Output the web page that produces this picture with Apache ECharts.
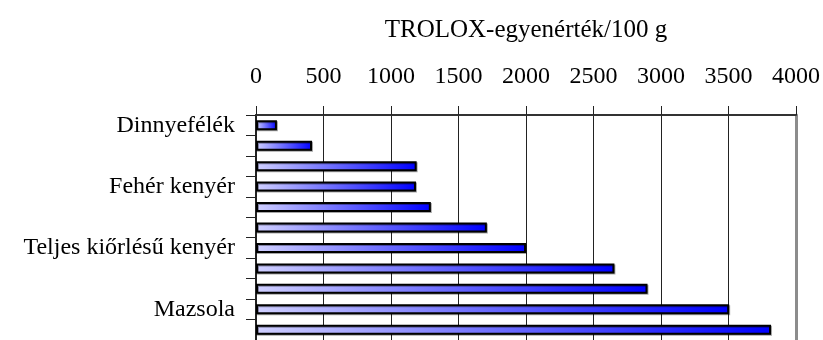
<!DOCTYPE html>
<html>
<head>
<meta charset="utf-8">
<script src="https://cdn.jsdelivr.net/npm/echarts@6/dist/echarts.min.js"></script>
<style>
  html, body { margin: 0; padding: 0; background: #fff; }
  #chart { width: 823px; height: 340px; }
</style>
</head>
<body>
<div id="chart"></div>
<script>
// Food categories (only every third one carries a printed name)
const categories = ['Dinnyefélék', '', '', 'Fehér kenyér', '', '', 'Teljes kiőrlésű kenyér', '', '', 'Mazsola', ''];
// Antioxidant capacity, TROLOX equivalent per 100 g
const troloxValues = [155, 415, 1190, 1185, 1295, 1710, 2000, 2655, 2900, 3505, 3815];
const axisTitle = 'TROLOX-egyenérték/100 g';
const axisMin = 0, axisMax = 4000, axisStep = 500;

const FONT = 'Liberation Serif';
const chart = echarts.init(document.getElementById('chart'), null, { renderer: 'canvas' });

chart.setOption({
  backgroundColor: '#ffffff',
  animation: false,
  grid: { left: 256, top: 115, width: 540, height: 227, containLabel: false },
  xAxis: {
    type: 'value',
    position: 'top',
    min: axisMin,
    max: axisMax,
    interval: axisStep,
    name: axisTitle,
    nameLocation: 'middle',
    nameGap: 72,
    nameTextStyle: { fontFamily: FONT, fontSize: 25, color: '#000' },
    axisLine: { show: true, lineStyle: { color: '#333', width: 2 } },
    axisTick: { show: true, length: 9, lineStyle: { color: '#222', width: 1 } },
    axisLabel: {
      fontFamily: FONT, fontSize: 24, color: '#000', margin: 26,
      formatter: v => String(v)
    },
    splitLine: { show: true, lineStyle: { color: '#222', width: 1 } }
  },
  yAxis: [
    {
      type: 'category',
      data: categories,
      inverse: true,
      axisLine: { show: true, lineStyle: { color: '#222', width: 2 } },
      axisTick: { show: true, interval: 0, length: 10, lineStyle: { color: '#222', width: 1 } },
      axisLabel: { interval: 2, fontFamily: FONT, fontSize: 24, color: '#000', margin: 21 },
      splitLine: { show: false }
    },
    {
      // right-hand frame of the plot area
      type: 'category',
      data: categories,
      inverse: true,
      position: 'right',
      axisLine: { show: true, lineStyle: { color: '#8c8c8c', width: 3 } },
      axisTick: { show: false },
      axisLabel: { show: false },
      splitLine: { show: false }
    }
  ],
  series: [{
    type: 'bar',
    yAxisIndex: 0,
    data: troloxValues,
    barWidth: 10,
    itemStyle: {
      color: new echarts.graphic.LinearGradient(0, 0, 1, 0, [
        { offset: 0, color: '#d0d0ff' },
        { offset: 1, color: '#0000ff' }
      ]),
      borderColor: '#000',
      borderWidth: 2,
      shadowColor: 'rgba(0,0,0,0.35)',
      shadowOffsetX: 1,
      shadowOffsetY: 1,
      shadowBlur: 0
    },
    emphasis: { disabled: true }
  }]
});
</script>
</body>
</html>
